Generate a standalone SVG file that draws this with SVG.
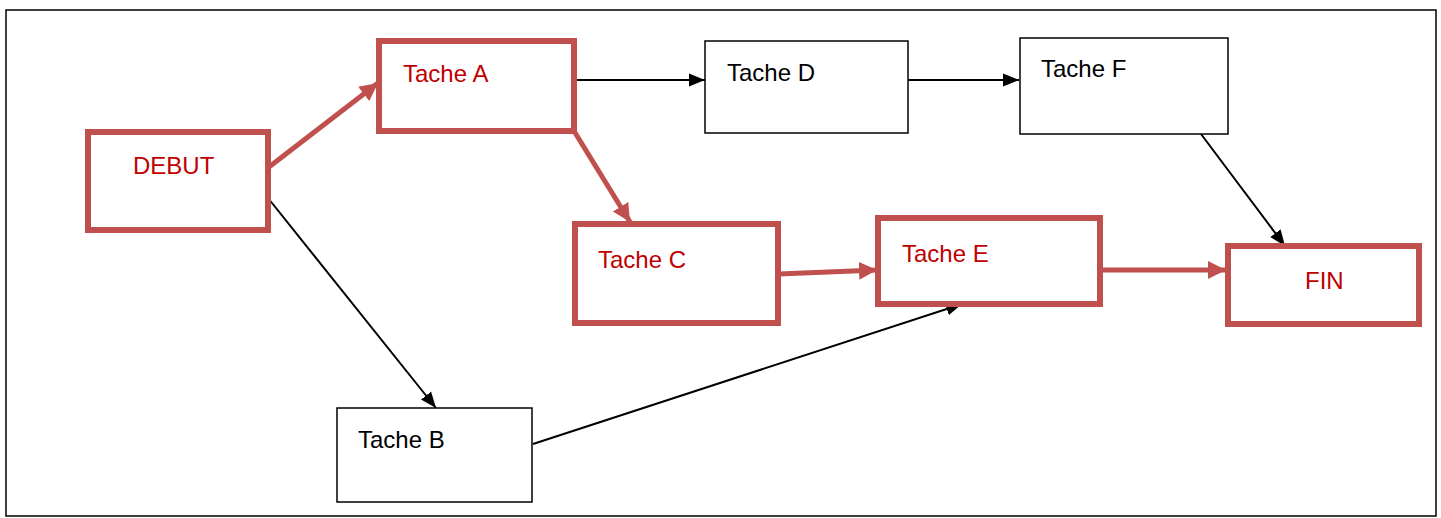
<svg xmlns="http://www.w3.org/2000/svg" width="1441" height="518" viewBox="0 0 1441 518">
<style>
.red rect{fill:#fff;stroke:#C0504D;stroke-width:6}
.blk rect{fill:#fff;stroke:#000;stroke-width:1.5}
text{font-family:"Liberation Sans",Arial,sans-serif;font-size:24px}
.red text{fill:#C00000}
.blk text{fill:#000}
.cr{stroke:#C0504D;stroke-width:5;fill:none}
.cb{stroke:#000;stroke-width:2;fill:none}
</style>
<defs>
<marker id="ar" markerUnits="userSpaceOnUse" markerWidth="20" markerHeight="20" refX="18" refY="10" orient="auto"><path d="M0,1 L18,10 L0,19 Z" fill="#C0504D"/></marker>
<marker id="ab" markerUnits="userSpaceOnUse" markerWidth="18" markerHeight="14" refX="16" refY="7" orient="auto"><path d="M0,0.5 L16,7 L0,13.5 Z" fill="#000"/></marker>
</defs>
<rect x="6" y="10" width="1430" height="506" fill="#fff" stroke="#000" stroke-width="1.5"/>
<g id="connectors">
<line class="cr" x1="269" y1="167" x2="378" y2="83" marker-end="url(#ar)"/>
<line class="cr" x1="574" y1="131" x2="630" y2="222" marker-end="url(#ar)"/>
<line class="cr" x1="779" y1="274" x2="877" y2="270" marker-end="url(#ar)"/>
<line class="cr" x1="1101" y1="270" x2="1226" y2="270" marker-end="url(#ar)"/>
<line class="cb" x1="577" y1="80" x2="705" y2="80" marker-end="url(#ab)"/>
<line class="cb" x1="908" y1="80" x2="1019" y2="80" marker-end="url(#ab)"/>
<line class="cb" x1="1201" y1="134" x2="1285" y2="246" marker-end="url(#ab)"/>
<line class="cb" x1="268" y1="198" x2="436" y2="408" marker-end="url(#ab)"/>
<line class="cb" x1="533" y1="444" x2="962" y2="304" marker-end="url(#ab)"/>
</g>
<g id="debut" class="red"><rect x="88" y="132" width="180" height="98"/><text x="133" y="174">DEBUT</text></g>
<g id="tacheA" class="red"><rect x="379" y="41" width="195" height="90"/><text x="403" y="82">Tache A</text></g>
<g id="tacheD" class="blk"><rect x="705" y="41" width="203" height="92"/><text x="727" y="81">Tache D</text></g>
<g id="tacheF" class="blk"><rect x="1020" y="38" width="208" height="96"/><text x="1041" y="77">Tache F</text></g>
<g id="tacheC" class="red"><rect x="575" y="224" width="203" height="99"/><text x="598" y="268">Tache C</text></g>
<g id="tacheE" class="red"><rect x="878" y="218" width="222" height="86"/><text x="902" y="262">Tache E</text></g>
<g id="fin" class="red"><rect x="1228" y="246" width="191" height="78"/><text x="1305" y="289">FIN</text></g>
<g id="tacheB" class="blk"><rect x="337" y="408" width="195" height="94"/><text x="358" y="448">Tache B</text></g>
</svg>
